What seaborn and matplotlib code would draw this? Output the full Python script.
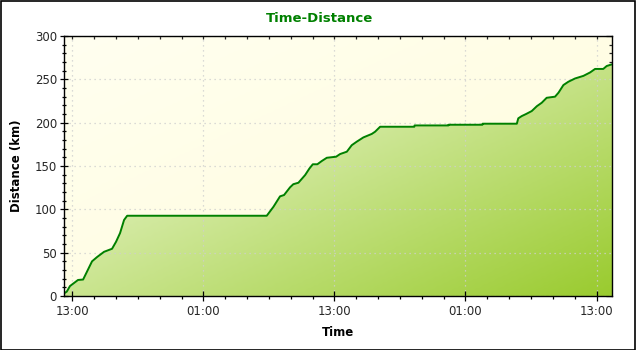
import numpy as np
import pandas as pd
import matplotlib
matplotlib.use("Agg")
import matplotlib.pyplot as plt
import matplotlib.dates as mdates
from matplotlib.colors import LinearSegmentedColormap
from matplotlib.patches import Rectangle
import seaborn as sns

# ---- data ----
times = [
    "2009-06-06 12:14", "2009-06-06 12:29", "2009-06-06 12:47", "2009-06-06 13:31",
    "2009-06-06 13:59", "2009-06-06 14:48", "2009-06-06 15:16", "2009-06-06 15:54",
    "2009-06-06 16:38", "2009-06-06 17:00", "2009-06-06 17:22", "2009-06-06 17:44",
    "2009-06-06 18:01",
    "2009-06-07 06:48", "2009-06-07 07:25", "2009-06-07 08:01", "2009-06-07 08:23",
    "2009-06-07 08:56", "2009-06-07 09:14", "2009-06-07 09:42", "2009-06-07 10:19",
    "2009-06-07 10:42", "2009-06-07 11:01", "2009-06-07 11:26", "2009-06-07 11:50",
    "2009-06-07 12:18", "2009-06-07 13:09", "2009-06-07 13:31", "2009-06-07 14:08",
    "2009-06-07 14:35", "2009-06-07 15:02", "2009-06-07 15:39", "2009-06-07 16:25",
    "2009-06-07 16:43", "2009-06-07 17:11", "2009-06-07 20:19", "2009-06-07 20:20",
    "2009-06-07 23:26", "2009-06-07 23:27",
    "2009-06-08 02:33", "2009-06-08 02:34", "2009-06-08 05:42", "2009-06-08 05:50",
    "2009-06-08 06:09", "2009-06-08 06:33", "2009-06-08 07:04", "2009-06-08 07:32",
    "2009-06-08 07:59", "2009-06-08 08:26", "2009-06-08 09:12", "2009-06-08 09:31",
    "2009-06-08 09:58", "2009-06-08 10:25", "2009-06-08 11:02", "2009-06-08 11:48",
    "2009-06-08 12:25", "2009-06-08 12:52", "2009-06-08 13:37", "2009-06-08 13:56",
    "2009-06-08 14:25",
]
distance_km = [
    3, 5, 11.5, 18.5,
    19, 40, 45, 51,
    54.5, 62.6, 72.6, 87.7,
    92.6,
    92.6, 103, 115, 116.5,
    125.4, 129, 130.7, 139.6,
    147, 152, 152, 155.7,
    159.5, 160.7, 163.8, 166.5,
    174, 178, 183, 187,
    189.5, 195.3, 195.3, 196.8,
    196.8, 197.6,
    197.6, 198.8, 198.8, 205,
    207.6, 210, 213.4, 219,
    223, 228.7, 230, 234.6,
    243.4, 247.2, 251, 254,
    258, 262, 262, 265.4,
    267.3,
]
y_ticks = [0, 50, 100, 150, 200, 250, 300]
title = "Time-Distance"
x_label = "Time"
y_label = "Distance (km)"

df = pd.DataFrame({"time": pd.to_datetime(times), "distance": distance_km})

sns.set_style("white")
plt.rcParams["font.family"] = ["DejaVu Sans"]

fig = plt.figure(figsize=(6.4, 3.5), dpi=100)
fig.patch.set_facecolor("white")
L, R, B, T = 64 / 640, 612 / 640, (350 - 296) / 350, (350 - 36) / 350
ax = fig.add_axes([L, B, R - L, T - B])

# background gradient (axes coords)
nx, ny = 200, 120
gx = np.linspace(0, 1, nx)
gy = np.linspace(1, 0, ny)  # top row first
GX, GY = np.meshgrid(gx, gy)
diag = (GX + (1 - GY)) / 2.0
bg_cmap = LinearSegmentedColormap.from_list("bg", ["#fffcda", "#fffff0"])
ax.imshow(1 - diag, extent=[0, 1, 0, 1], transform=ax.transAxes, cmap=bg_cmap,
          aspect="auto", origin="upper", zorder=0, interpolation="bilinear")

# fill under curve with gradient
xnum = mdates.date2num(df["time"])
poly = ax.fill_between(xnum, 0, df["distance"], facecolor="none", edgecolor="none", zorder=1)
fill_cmap = LinearSegmentedColormap.from_list("fill", ["#fbfff2", "#9acb2f"])
im = ax.imshow(diag, extent=[0, 1, 0, 1], transform=ax.transAxes, cmap=fill_cmap,
               aspect="auto", origin="upper", zorder=1, interpolation="bilinear",
               vmin=0, vmax=1)
im.set_clip_path(poly.get_paths()[0], poly.get_transform())

sns.lineplot(data=df, x="time", y="distance", ax=ax, color="#008000",
             linewidth=1.4, zorder=3, estimator=None, sort=False)

ax.set_xlim(df["time"].min(), df["time"].max())
ax.set_ylim(y_ticks[0], y_ticks[-1])
ax.set_yticks(y_ticks)
ax.yaxis.set_minor_locator(matplotlib.ticker.MultipleLocator(10))
ax.xaxis.set_major_locator(mdates.HourLocator(byhour=[1, 13]))
ax.xaxis.set_minor_locator(mdates.HourLocator(byhour=list(range(1, 24, 2))))
ax.xaxis.set_major_formatter(mdates.DateFormatter("%H:%M"))

ax.grid(True, which="major", color="#cfcfcf", linestyle=(0, (1, 3)), linewidth=0.9, zorder=2)
ax.set_axisbelow(False)
for g in ax.get_xgridlines() + ax.get_ygridlines():
    g.set_zorder(2)

for s in ax.spines.values():
    s.set_color("black")
    s.set_linewidth(1.0)
    s.set_zorder(5)

ax.tick_params(axis="y", which="major", direction="inout", length=6, width=0.9,
               color="black", labelsize=8.5, pad=2, left=True)
ax.tick_params(axis="y", which="minor", direction="inout", length=3.5, width=0.9,
               color="black", left=True)
ax.tick_params(axis="x", which="major", direction="inout", length=7, width=0.9,
               color="black", labelsize=8.5, pad=3, bottom=True)
ax.tick_params(axis="x", which="minor", direction="out", length=2, width=0.9,
               color="black", bottom=True)

# mirrored inward ticks on top and right
sx = ax.secondary_xaxis("top")
sx.xaxis.set_major_locator(mdates.HourLocator(byhour=[1, 13]))
sx.xaxis.set_minor_locator(mdates.HourLocator(byhour=list(range(1, 24, 2))))
sx.tick_params(which="both", direction="in", length=2.5, width=0.9, labeltop=False)
sx.spines["top"].set_visible(False)
sy = ax.secondary_yaxis("right")
sy.set_yticks(y_ticks)
sy.yaxis.set_minor_locator(matplotlib.ticker.MultipleLocator(10))
sy.tick_params(which="major", direction="in", length=4, width=0.9, labelright=False)
sy.tick_params(which="minor", direction="in", length=2.5, width=0.9, labelright=False)
sy.spines["right"].set_visible(False)

ax.set_xlabel("")
ax.set_ylabel("")
fig.text(0.5, 1 - 18 / 350, title, ha="center", va="center", color="#008000",
         fontsize=9.5, fontweight="bold")
fig.text(338 / 640, 1 - 333 / 350, x_label, ha="center", va="center",
         fontsize=8.5, fontweight="bold", color="black")
fig.text(17 / 640, 1 - 166 / 350, y_label, ha="center", va="center", rotation=90,
         fontsize=8.5, fontweight="bold", color="black")

fig.add_artist(Rectangle((0.5 / 640, 0.5 / 350), 634 / 640, 349 / 350,
                         transform=fig.transFigure, fill=False, edgecolor="black",
                         linewidth=1.2))

fig.savefig("out.png", dpi=100)
